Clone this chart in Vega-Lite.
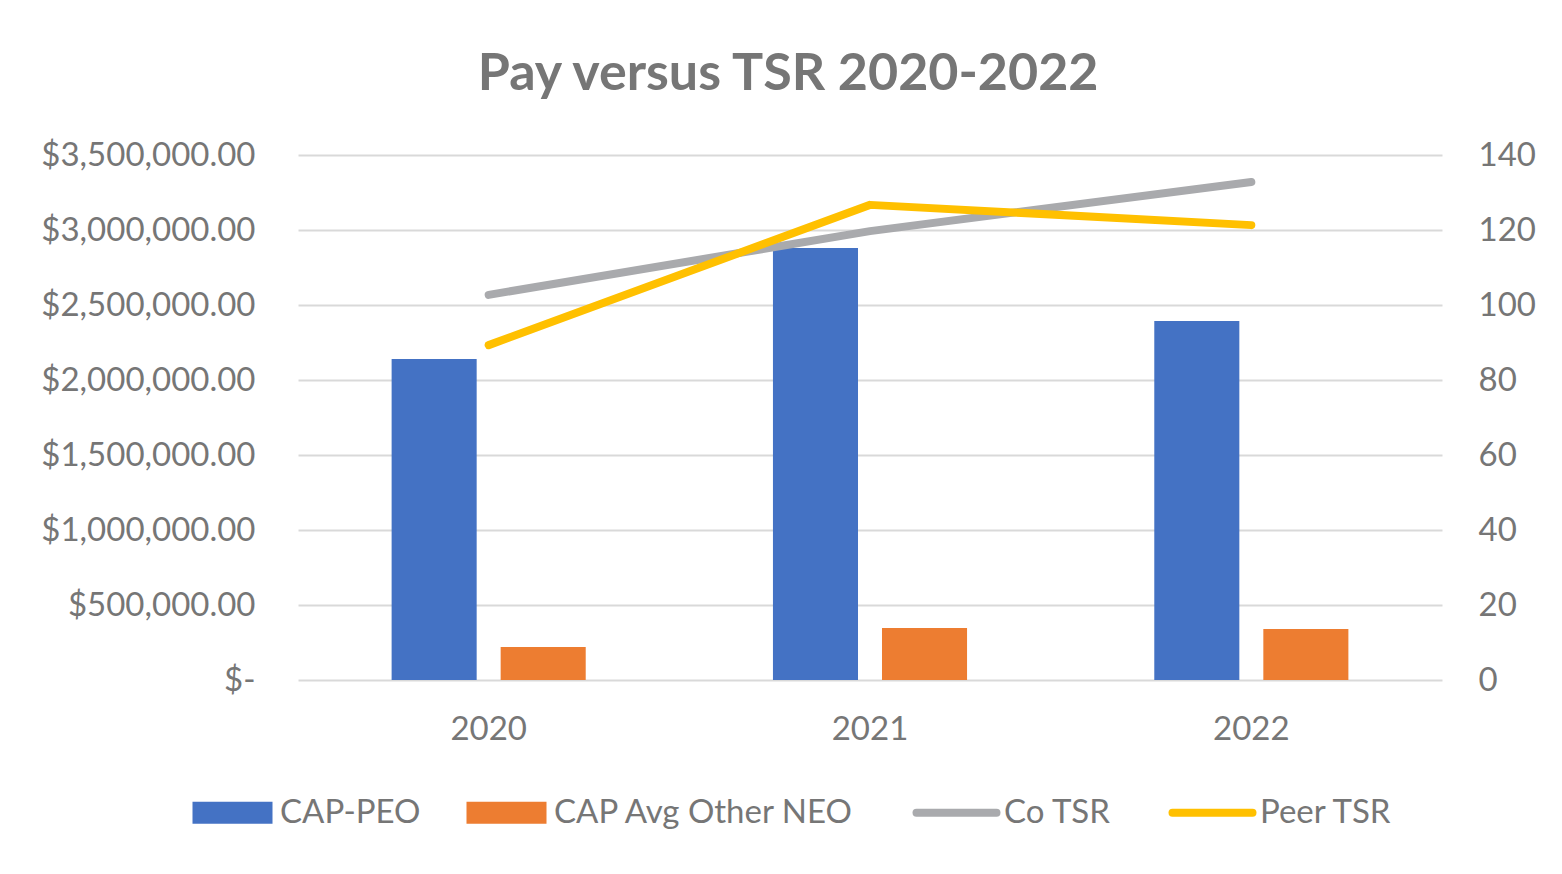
{
  "$schema": "https://vega.github.io/schema/vega-lite/v6.json",
  "autosize": "none",
  "width": 1144,
  "height": 525,
  "padding": {"left": 298, "top": 155, "right": 120, "bottom": 194},
  "background": "white",
  "title": {
    "text": "Pay versus TSR 2020-2022",
    "font": "Lato",
    "fontSize": 52,
    "fontWeight": "bold",
    "color": "#767676",
    "anchor": "middle",
    "frame": "bounds",
    "offset": 38
  },
  "datasets": {
    "pay": [
      {"year": "2020", "series": "CAP-PEO", "value": 2140000},
      {"year": "2020", "series": "CAP Avg Other NEO", "value": 220000},
      {"year": "2021", "series": "CAP-PEO", "value": 2880000},
      {"year": "2021", "series": "CAP Avg Other NEO", "value": 347000},
      {"year": "2022", "series": "CAP-PEO", "value": 2393000},
      {"year": "2022", "series": "CAP Avg Other NEO", "value": 340000}
    ],
    "tsr": [
      {"year": "2020", "series": "Co TSR", "value": 102.7},
      {"year": "2021", "series": "Co TSR", "value": 119.7},
      {"year": "2022", "series": "Co TSR", "value": 132.8},
      {"year": "2020", "series": "Peer TSR", "value": 89.3},
      {"year": "2021", "series": "Peer TSR", "value": 126.7},
      {"year": "2022", "series": "Peer TSR", "value": 121.3}
    ]
  },
  "encoding": {
    "x": {
      "field": "year",
      "type": "nominal",
      "scale": {"paddingInner": 0.491, "paddingOuter": 0.2455},
      "axis": {
        "title": null,
        "labelAngle": 0,
        "domain": false,
        "ticks": false,
        "labelPadding": 33,
        "labelFont": "Lato",
        "labelFontSize": 33,
        "labelColor": "#767676"
      }
    },
    "color": {
      "field": "series",
      "type": "nominal",
      "scale": {
        "domain": ["CAP-PEO", "CAP Avg Other NEO", "Co TSR", "Peer TSR"],
        "range": ["#4472C4", "#ED7D31", "#A9AAAD", "#FFC000"]
      },
      "legend": {
        "title": null,
        "orient": "none",
        "legendX": -82,
        "legendY": 641,
        "direction": "horizontal",
        "symbolSize": 6400,
        "labelFont": "Lato",
        "labelFontSize": 33,
        "labelColor": "#767676",
        "labelOffset": 31,
        "labelLimit": 0,
        "columnPadding": 45,
        "symbolStrokeWidth": 8,
        "encode": {
          "symbols": {
            "update": {
              "shape": {"signal": "(datum.value === 'Co TSR' || datum.value === 'Peer TSR') ? 'M-1,0H1' : 'M-1,-0.275H1V0.275H-1Z'"},
              "fill": {"signal": "(datum.value === 'Co TSR' || datum.value === 'Peer TSR') ? 'transparent' : scale('color', datum.value)"},
              "stroke": {"signal": "scale('color', datum.value)"},
              "strokeWidth": {"signal": "(datum.value === 'Co TSR' || datum.value === 'Peer TSR') ? 8 : 0"},
              "strokeCap": {"value": "round"},
              "opacity": {"value": 1},
              "fillOpacity": {"value": 1},
              "strokeOpacity": {"value": 1}
            }
          }
        }
      }
    }
  },
  "layer": [
    {
      "data": {"name": "pay"},
      "mark": {"type": "bar"},
      "encoding": {
        "xOffset": {
          "field": "series",
          "type": "nominal",
          "sort": ["CAP-PEO", "CAP Avg Other NEO"],
          "scale": {"paddingInner": 0.22, "paddingOuter": 0}
        },
        "y": {
          "field": "value",
          "type": "quantitative",
          "scale": {"domain": [0, 3500000], "nice": false},
          "axis": {
            "title": null,
            "orient": "left",
            "values": [0, 500000, 1000000, 1500000, 2000000, 2500000, 3000000, 3500000],
            "labelExpr": "datum.value === 0 ? '$-\u00a0\u00a0\u00a0' : format(datum.value, '$,.2f')",
            "domain": false,
            "ticks": false,
            "labelPadding": 43,
            "labelLimit": 0,
            "labelFont": "Lato",
            "labelFontSize": 33,
            "labelColor": "#767676",
            "grid": true,
            "gridColor": "#D9D9D9",
            "gridWidth": 2
          }
        }
      }
    },
    {
      "data": {"name": "tsr"},
      "mark": {"type": "line", "strokeWidth": 8, "strokeCap": "round", "strokeJoin": "round"},
      "encoding": {
        "y": {
          "field": "value",
          "type": "quantitative",
          "scale": {"domain": [0, 140], "nice": false},
          "axis": {
            "title": null,
            "orient": "right",
            "values": [0, 20, 40, 60, 80, 100, 120, 140],
            "domain": false,
            "ticks": false,
            "grid": false,
            "labelPadding": 36,
            "labelFont": "Lato",
            "labelFontSize": 33,
            "labelColor": "#767676"
          }
        }
      }
    }
  ],
  "resolve": {"scale": {"y": "independent"}},
  "config": {
    "view": {"stroke": null}
  }
}
